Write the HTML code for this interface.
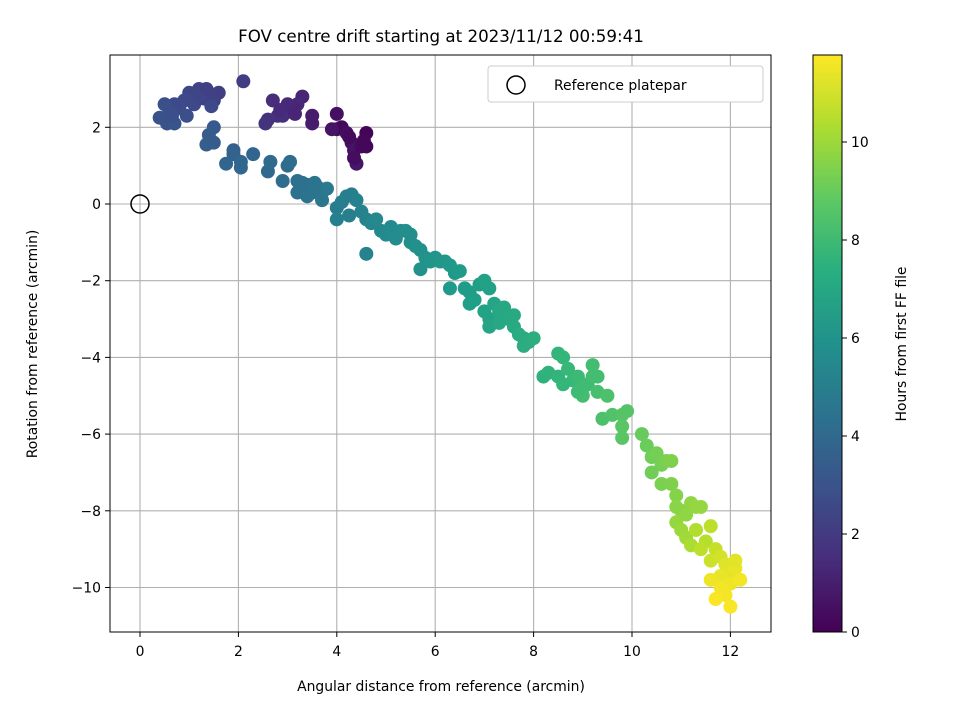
<!DOCTYPE html>
<html><head><meta charset="utf-8"><style>
body{margin:0;background:#fff;}
svg text{font-family:"DejaVu Sans","Liberation Sans",sans-serif;fill:#000;}
</style></head><body>
<svg id="chart" width="960" height="720" xmlns="http://www.w3.org/2000/svg">
<defs><linearGradient id="vir" x1="0" y1="1" x2="0" y2="0">
<stop offset="0" stop-color="#440154"/><stop offset="0.125" stop-color="#472d7b"/><stop offset="0.25" stop-color="#3b528b"/><stop offset="0.375" stop-color="#2c728e"/><stop offset="0.5" stop-color="#21918c"/><stop offset="0.625" stop-color="#28ae80"/><stop offset="0.75" stop-color="#5ec962"/><stop offset="0.875" stop-color="#addc30"/><stop offset="1" stop-color="#fde725"/>
</linearGradient></defs>
<rect x="0" y="0" width="960" height="720" fill="#fff"/>
<text x="441" y="42" font-size="16.7" text-anchor="middle">FOV centre drift starting at 2023/11/12 00:59:41</text>
<g id="grid"></g>
<g id="pts"></g>
<rect x="110" y="55" width="661" height="577" fill="none" stroke="#000" stroke-width="1"/>
<g id="ticks"></g>
<text x="441" y="691" font-size="13.9" text-anchor="middle">Angular distance from reference (arcmin)</text>
<text transform="translate(37,344) rotate(-90)" font-size="13.9" text-anchor="middle">Rotation from reference (arcmin)</text>
<g>
<rect x="488" y="66" width="275" height="36" rx="3" fill="#fff" stroke="#ccc"/>
<circle cx="516" cy="85" r="9" fill="none" stroke="#000" stroke-width="1.5"/>
<text x="554" y="90" font-size="13.9">Reference platepar</text>
</g>
<rect x="813" y="55" width="29" height="577" fill="url(#vir)" stroke="#000" stroke-width="1"/>
<g id="cticks"></g>
<text transform="translate(906,344) rotate(-90)" font-size="13.9" text-anchor="middle">Hours from first FF file</text>
</svg>
<script>
const xs=[4.0,4.1,4.2,4.3,4.35,4.5,4.6,4.55,4.4,4.0,4.25,4.35,3.9,4.6,
3.5,3.5,3.3,3.2,3.1,3.0,2.9,2.8,2.7,2.6,2.55,3.0,3.15,2.85,
2.1,1.6,1.4,1.2,1.0,0.9,0.8,0.7,0.6,0.5,0.4,0.55,0.7,1.1,1.3,1.5,0.95,1.2,1.45,0.65,1.35,
1.5,1.4,1.35,1.5,1.9,1.9,1.75,2.05,2.05,2.3,2.6,2.65,2.9,3.0,3.05,3.2,3.2,3.4,3.3,3.5,3.6,3.7,3.7,3.8,3.4,3.55,
4.0,4.1,4.2,4.3,4.25,4.0,4.4,4.5,4.6,4.7,4.8,4.6,4.9,5.0,5.1,5.2,5.3,5.5,5.5,5.6,5.7,5.4,5.8,5.7,5.9,
6.0,6.1,6.2,6.3,6.4,6.5,6.3,6.6,6.7,6.8,6.9,7.0,7.1,6.7,7.0,7.1,7.2,7.3,7.4,7.1,7.5,7.6,7.7,7.8,7.8,7.9,7.6,7.3,
8.0,8.2,8.3,8.5,8.5,8.6,8.7,8.8,8.6,8.9,9.0,9.1,9.2,9.3,9.0,8.9,9.3,9.5,9.4,9.6,9.8,9.8,9.8,9.9,9.2,
10.2,10.3,10.4,10.5,10.6,10.7,10.8,10.6,10.8,10.9,10.9,11.0,11.1,11.2,11.3,10.4,10.9,11.0,11.4,11.1,
11.2,11.3,11.5,11.6,11.4,11.7,11.6,11.8,11.9,12.0,11.8,12.0,12.1,12.2,11.9,12.0,11.7,12.1,11.6,11.8];
const ys=[1.95,2.0,1.85,1.6,1.4,1.5,1.85,1.65,1.05,2.35,1.75,1.2,1.95,1.5,
2.3,2.1,2.8,2.6,2.5,2.4,2.3,2.3,2.7,2.2,2.1,2.6,2.35,2.45,
3.2,2.9,2.9,3.0,2.9,2.7,2.5,2.6,2.4,2.6,2.25,2.1,2.1,2.6,2.75,2.7,2.3,2.8,2.55,2.3,3.0,
2.0,1.8,1.55,1.6,1.4,1.3,1.05,0.95,1.1,1.3,0.85,1.1,0.6,1.0,1.1,0.6,0.3,0.5,0.55,0.3,0.45,0.1,0.3,0.4,0.2,0.55,
-0.1,0.05,0.2,0.25,-0.3,-0.4,0.1,-0.2,-0.4,-0.5,-0.4,-1.3,-0.7,-0.8,-0.6,-0.9,-0.7,-0.8,-1.0,-1.1,-1.2,-0.7,-1.4,-1.7,-1.5,
-1.4,-1.5,-1.5,-1.6,-1.8,-1.75,-2.2,-2.2,-2.3,-2.5,-2.1,-2.0,-2.2,-2.6,-2.8,-3.0,-2.6,-2.8,-2.7,-3.2,-3.0,-3.2,-3.4,-3.5,-3.7,-3.6,-2.9,-3.1,
-3.5,-4.5,-4.4,-4.5,-3.9,-4.0,-4.3,-4.6,-4.7,-4.5,-4.8,-4.7,-4.5,-4.5,-5.0,-4.9,-4.9,-5.0,-5.6,-5.5,-5.5,-5.8,-6.1,-5.4,-4.2,
-6.0,-6.3,-6.6,-6.5,-6.8,-6.7,-6.7,-7.3,-7.3,-7.6,-7.9,-8.0,-8.1,-7.8,-7.9,-7.0,-8.3,-8.5,-7.9,-8.7,
-8.9,-8.5,-8.8,-8.4,-9.0,-9.0,-9.3,-9.2,-9.4,-9.6,-9.7,-9.9,-9.5,-9.8,-10.2,-10.5,-10.3,-9.3,-9.8,-10.0];
const hrs=[0.3,0.2,0.4,0.5,0.6,0.3,0.1,0.2,0.7,0.5,0.3,0.4,0.6,0.2,
0.9,0.9,1.2,1.3,1.2,1.4,1.5,1.6,1.5,1.7,1.8,1.3,1.2,1.4,
2.1,2.2,2.3,2.4,2.5,2.6,2.7,2.6,2.8,2.9,3.0,3.0,3.1,2.6,2.4,2.3,2.9,2.5,2.6,2.9,2.3,
3.3,3.4,3.5,3.4,3.6,3.7,3.8,3.9,3.9,3.8,4.0,4.1,4.2,4.1,4.2,4.3,4.4,4.5,4.4,4.6,4.5,4.7,4.6,4.8,4.5,4.5,
4.9,5.0,5.0,5.1,5.1,5.2,5.2,5.3,5.3,5.4,5.5,5.3,5.5,5.6,5.6,5.7,5.7,5.8,5.8,5.9,5.9,5.8,6.0,6.0,6.1,
6.1,6.2,6.2,6.3,6.3,6.4,6.4,6.5,6.5,6.6,6.6,6.7,6.7,6.6,6.8,6.8,6.9,7.0,7.0,6.9,7.1,7.1,7.2,7.2,7.3,7.3,7.1,7.0,
7.4,7.5,7.6,7.7,7.7,7.8,7.9,7.9,7.8,8.0,8.1,8.1,8.2,8.2,8.2,8.1,8.3,8.4,8.4,8.5,8.6,8.7,8.7,8.6,8.2,
9.0,9.1,9.2,9.3,9.3,9.4,9.5,9.4,9.5,9.6,9.7,9.7,9.8,9.8,9.9,9.2,9.9,10.0,9.9,10.1,
10.3,10.4,10.5,10.6,10.6,10.8,10.9,11.0,11.2,11.3,11.4,11.5,11.4,11.6,11.6,11.7,11.7,11.3,11.5,11.6];
const xTicks=[0,2,4,6,8,10,12];
const yTicks=[2,0,-2,-4,-6,-8,-10];
const cTicks=[0,2,4,6,8,10];
const refX=[0], refY=[0];
const sx=v=>140+v*49.2, sy=v=>204-v*38.35, sc=v=>632-v*49;
const V=[[68,1,84],[72,40,120],[62,73,137],[49,104,142],[38,130,142],[31,158,137],[53,183,121],[109,205,89],[180,222,44],[253,231,37]];
function vir(t){t=Math.max(0,Math.min(1,t))*(V.length-1);const i=Math.min(V.length-2,Math.floor(t)),f=t-i;
return 'rgb('+V[i].map((c,k)=>Math.round(c+(V[i+1][k]-c)*f)).join(',')+')';}
const NS='http://www.w3.org/2000/svg';
function mk(tag,a,parent){const e=document.createElementNS(NS,tag);for(const k in a)e.setAttribute(k,a[k]);parent.appendChild(e);return e;}
const g=document.getElementById('grid'),p=document.getElementById('pts'),t=document.getElementById('ticks'),ct=document.getElementById('cticks');
xTicks.forEach(v=>{const x=sx(v);
const l=mk('line',{x1:x,x2:x,y1:55,y2:632,stroke:'#b0b0b0','stroke-width':1.1},g);


mk('line',{x1:x,x2:x,y1:632,y2:637,stroke:'#000'},t);
const tx=mk('text',{x:x,y:656,'font-size':13.9,'text-anchor':'middle'},t);tx.textContent=String(v).replace('-','\u2212');

});
yTicks.forEach(v=>{const y=sy(v);
const l=mk('line',{x1:110,x2:771,y1:y,y2:y,stroke:'#b0b0b0','stroke-width':1.1},g);


mk('line',{x1:105,x2:110,y1:y,y2:y,stroke:'#000'},t);
const tx=mk('text',{x:101,y:y+5,'font-size':13.9,'text-anchor':'end'},t);tx.textContent=String(v).replace('-','\u2212');

});
cTicks.forEach(v=>{const y=sc(v);
mk('line',{x1:842,x2:847,y1:y,y2:y,stroke:'#000'},ct);
const tx=mk('text',{x:851,y:y+5,'font-size':13.9},ct);tx.textContent=String(v);

});
for(let i=0;i<xs.length;i++){
const c=mk('circle',{cx:sx(xs[i]),cy:sy(ys[i]),r:7,fill:vir(hrs[i]/11.78)},p);

}
const r=mk('circle',{cx:sx(refX[0]),cy:sy(refY[0]),r:9,fill:'none',stroke:'#000','stroke-width':1.5},p);


</script>
</body></html>
